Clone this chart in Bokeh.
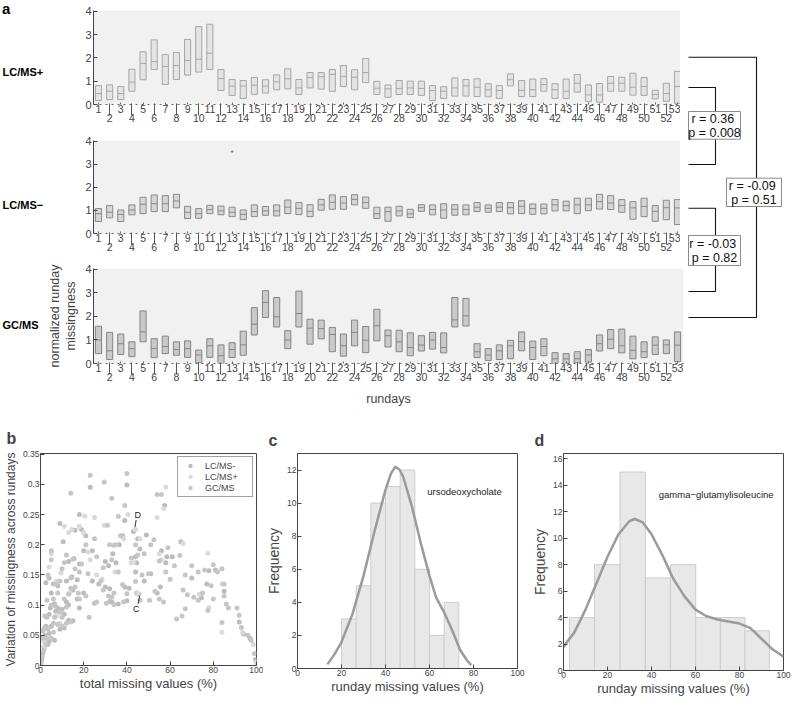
from bokeh.plotting import figure
from bokeh.models import (LinearAxis, FixedTicker, Range1d, Legend, LegendItem,
                          NumeralTickFormatter)
from bokeh.layouts import row, column
from bokeh.embed import file_html
from bokeh.resources import INLINE
from bokeh.core.properties import value

FONT = "Liberation Sans"

# ---------------- panel a data ----------------
rundays = list(range(1, 54))
pos_q3 = [0.81, 0.84, 0.77, 1.51, 2.26, 2.77, 2.14, 2.23, 2.79, 3.34, 3.44, 1.50, 1.07, 1.03, 1.16, 1.06, 1.27, 1.53,
          1.07, 1.37, 1.37, 1.50, 1.67, 1.49, 1.97, 0.99, 0.84, 1.03, 1.00, 1.00, 0.81, 0.76, 1.14, 1.07, 1.10, 0.89,
          0.81, 1.31, 1.03, 1.09, 1.11, 0.89, 1.09, 1.29, 0.84, 0.90, 1.20, 1.17, 1.34, 1.16, 0.61, 0.91, 1.42]
pos_med = [0.47, 0.57, 0.47, 0.96, 1.76, 1.84, 1.63, 1.67, 1.89, 1.94, 2.20, 1.11, 0.79, 0.79, 0.83, 0.79, 0.97, 1.10,
           0.71, 1.16, 1.19, 1.29, 1.21, 1.17, 1.37, 0.70, 0.67, 0.69, 0.71, 0.69, 0.60, 0.57, 0.71, 0.80, 0.74, 0.63,
           0.60, 1.06, 0.61, 0.63, 0.86, 0.63, 0.57, 0.91, 0.41, 0.41, 0.91, 0.91, 0.74, 0.77, 0.43, 0.47, 0.77]
pos_q1 = [0.17, 0.21, 0.21, 0.57, 1.06, 1.50, 0.86, 1.07, 1.26, 1.39, 1.50, 0.60, 0.39, 0.26, 0.44, 0.49, 0.63, 0.67,
          0.43, 0.71, 0.66, 0.57, 0.77, 0.63, 0.94, 0.43, 0.31, 0.43, 0.43, 0.39, 0.17, 0.26, 0.36, 0.36, 0.34, 0.33,
          0.26, 0.80, 0.34, 0.34, 0.57, 0.26, 0.26, 0.53, 0.13, 0.10, 0.57, 0.57, 0.40, 0.39, 0.24, 0.14, 0.05]

neg_q3 = [1.08, 1.21, 1.02, 1.24, 1.57, 1.67, 1.64, 1.70, 1.18, 1.08, 1.22, 1.19, 1.14, 1.02, 1.24, 1.17, 1.24, 1.45,
          1.34, 1.25, 1.48, 1.67, 1.60, 1.68, 1.58, 1.14, 1.14, 1.18, 1.05, 1.25, 1.24, 1.29, 1.25, 1.24, 1.34, 1.24,
          1.34, 1.34, 1.42, 1.28, 1.28, 1.47, 1.40, 1.53, 1.53, 1.70, 1.64, 1.47, 1.38, 1.53, 1.21, 1.44, 1.47]
neg_med = [0.86, 0.92, 0.83, 1.02, 1.27, 1.29, 1.29, 1.41, 0.92, 0.86, 1.04, 0.98, 0.92, 0.83, 0.95, 0.98, 0.98, 1.14,
           1.09, 0.96, 1.24, 1.35, 1.32, 1.48, 1.34, 0.86, 0.95, 0.98, 0.85, 1.12, 1.04, 1.02, 1.05, 1.04, 1.14, 1.09,
           1.14, 1.12, 1.18, 1.08, 1.09, 1.24, 1.21, 1.24, 1.24, 1.38, 1.32, 1.21, 1.11, 1.17, 0.96, 1.12, 1.11]
neg_q1 = [0.52, 0.68, 0.52, 0.81, 0.86, 0.95, 0.95, 1.11, 0.65, 0.66, 0.86, 0.81, 0.73, 0.60, 0.73, 0.79, 0.76, 0.86,
          0.82, 0.73, 1.01, 1.05, 1.05, 1.24, 1.09, 0.65, 0.53, 0.76, 0.69, 0.96, 0.81, 0.66, 0.79, 0.81, 0.95, 0.92,
          0.95, 0.85, 0.86, 0.83, 0.85, 0.98, 0.98, 0.86, 0.99, 1.06, 1.04, 0.92, 0.62, 0.73, 0.53, 0.60, 0.39]
neg_outlier_day = [13]
neg_outlier_val = [3.55]

gc_q3 = [1.58, 1.32, 1.25, 0.92, 2.23, 1.05, 1.16, 0.92, 0.96, 0.57, 1.05, 0.79, 0.88, 1.37, 2.37, 3.09, 2.80, 1.39,
         3.07, 1.88, 1.84, 1.53, 1.25, 1.84, 1.57, 2.30, 1.42, 1.41, 1.30, 1.18, 1.32, 1.30, 2.80, 2.76, 0.84, 0.63,
         0.79, 0.98, 1.34, 0.95, 1.05, 0.46, 0.42, 0.50, 0.59, 1.21, 1.44, 1.46, 1.16, 0.92, 1.13, 1.00, 1.34]
gc_med = [1.00, 0.54, 0.84, 0.63, 1.34, 0.64, 0.72, 0.59, 0.63, 0.36, 0.75, 0.33, 0.59, 0.79, 1.67, 2.59, 1.98, 1.00,
          2.12, 1.50, 1.48, 1.23, 0.75, 1.32, 0.99, 1.60, 1.18, 0.92, 0.68, 0.78, 1.00, 0.68, 1.85, 2.02, 0.50, 0.36,
          0.54, 0.75, 0.93, 0.68, 0.72, 0.20, 0.20, 0.20, 0.36, 0.84, 1.03, 0.75, 0.56, 0.50, 0.78, 0.79, 0.78]
gc_q1 = [0.42, 0.17, 0.38, 0.29, 0.92, 0.25, 0.42, 0.35, 0.26, 0.03, 0.26, 0.00, 0.25, 0.35, 1.21, 1.95, 1.55, 0.63,
         1.55, 0.82, 1.05, 0.50, 0.31, 0.75, 0.46, 0.96, 0.70, 0.50, 0.33, 0.53, 0.61, 0.45, 1.55, 1.59, 0.25, 0.13,
         0.17, 0.20, 0.54, 0.17, 0.33, 0.00, 0.00, 0.03, 0.06, 0.53, 0.63, 0.45, 0.20, 0.25, 0.38, 0.42, 0.08]

y_ticks_a = [0, 1, 2, 3, 4]
odd_days = [d for d in rundays if d % 2 == 1]
even_days = [d for d in rundays if d % 2 == 0]

corr_texts = [["r  = 0.36", "p = 0.008"], ["r  = -0.03", "p = 0.82"], ["r  = -0.09", "p = 0.51"]]

# ---------------- panel b data ----------------
neg_x = [23, 40, 18, 9, 16, 19, 21, 39, 43, 38, 45, 49, 57.5, 56, 58, 65, 70, 78, 77, 81, 74.5, 85, 92, 94, 97, 99.5,
         44, 44.5, 46, 51, 54, 44.5, 45.5, 44, 40, 39, 35, 33.5, 31.5, 30, 27, 30, 32, 33, 32, 25, 24, 24, 20, 18, 17,
         15.5, 14.5, 13, 12, 10.5, 8, 6, 4, 2.5, 5, 6.5, 8, 10, 12, 15, 17, 18, 20, 13, 11, 9, 11, 13, 15, 7, 5, 4,
         2.5, 2, 4, 6.5, 3.5, 1, 0.5, 0.2, 4, 4.5, 36.5, 36, 41, 48, 58.5, 61, 55.5]
neg_y = [0.295, 0.299, 0.25, 0.235, 0.224, 0.225, 0.215, 0.24, 0.222, 0.215, 0.21, 0.216, 0.265, 0.19, 0.17, 0.205,
         0.145, 0.157, 0.135, 0.158, 0.112, 0.123, 0.072, 0.052, 0.045, 0.01, 0.18, 0.17, 0.193, 0.152, 0.12, 0.12,
         0.118, 0.155, 0.107, 0.13, 0.17, 0.185, 0.165, 0.172, 0.135, 0.13, 0.127, 0.105, 0.106, 0.103, 0.14, 0.19,
         0.19, 0.168, 0.142, 0.177, 0.147, 0.172, 0.14, 0.205, 0.132, 0.135, 0.145, 0.137, 0.12, 0.102, 0.095, 0.093,
         0.105, 0.125, 0.11, 0.095, 0.12, 0.1, 0.085, 0.06, 0.062, 0.075, 0.074, 0.09, 0.065, 0.053, 0.065, 0.05,
         0.04, 0.042, 0.035, 0.02, 0.01, 0.002, 0.085, 0.095, 0.2, 0.102, 0.128, 0.14, 0.18, 0.18, 0.13]
pos_x = [20.5, 25, 11, 18, 20, 13, 14.5, 40.5, 44, 38.5, 46, 54, 58, 57, 55, 66, 77.5, 73.5, 78, 84, 84, 93.5, 98.5,
         99.7, 42, 43, 45, 28.5, 29.5, 26, 23, 22, 9.5, 7.5, 5, 4, 13.5, 9, 7.5, 1.5, 2, 1.5, 0.5, 34.5, 56]
pos_y = [0.247, 0.245, 0.23, 0.23, 0.22, 0.22, 0.225, 0.25, 0.225, 0.21, 0.21, 0.245, 0.295, 0.26, 0.185, 0.202,
         0.186, 0.118, 0.096, 0.135, 0.055, 0.055, 0.035, 0.005, 0.17, 0.17, 0.12, 0.143, 0.232, 0.15, 0.175, 0.188,
         0.153, 0.14, 0.185, 0.163, 0.12, 0.07, 0.082, 0.06, 0.03, 0.04, 0.03, 0.155, 0.175]
gc_x = [23, 29.5, 40, 33, 14, 36, 39, 54, 56, 78, 52.5, 51, 60, 64.5, 67, 70, 73, 76, 79, 80, 82, 84, 80, 75, 73, 71,
        68, 66, 67, 63, 65.5, 77.5, 85, 85, 86, 87, 84, 91, 92, 93, 96, 97.5, 99, 44, 45, 42, 48, 50, 53, 55, 50.5,
        57, 46, 44, 40, 38, 36, 34, 32, 33, 29, 28, 29, 31.5, 33, 34, 30.5, 26, 22.5, 26, 25, 31, 22, 21, 19, 18, 16,
        15, 14, 12, 11, 10, 9, 8, 7, 5, 5, 3.5, 3, 6, 7, 9, 11, 13, 14, 16, 17.5, 18, 21, 12, 10, 8, 10, 12, 14, 6.5,
        6, 6, 3.5, 2, 1, 3, 5, 2.5, 1.5, 0.8, 0.3, 1, 3, 2, 5, 35, 37, 34, 38.5, 47, 55, 59, 62, 58]
gc_y = [0.315, 0.304, 0.318, 0.277, 0.285, 0.247, 0.265, 0.283, 0.283, 0.285, 0.208, 0.2, 0.143, 0.182, 0.15, 0.165,
        0.155, 0.158, 0.132, 0.167, 0.155, 0.16, 0.11, 0.12, 0.108, 0.113, 0.117, 0.125, 0.094, 0.077, 0.082, 0.091,
        0.135, 0.115, 0.102, 0.095, 0.071, 0.095, 0.083, 0.063, 0.05, 0.042, 0.02, 0.2, 0.183, 0.178, 0.185, 0.152,
        0.123, 0.11, 0.108, 0.105, 0.108, 0.139, 0.119, 0.134, 0.155, 0.199, 0.2, 0.175, 0.162, 0.14, 0.125, 0.115,
        0.113, 0.101, 0.103, 0.105, 0.08, 0.18, 0.21, 0.232, 0.152, 0.2, 0.168, 0.155, 0.16, 0.176, 0.145, 0.183,
        0.17, 0.16, 0.14, 0.12, 0.135, 0.19, 0.175, 0.15, 0.108, 0.11, 0.098, 0.088, 0.11, 0.118, 0.128, 0.13, 0.12,
        0.11, 0.115, 0.097, 0.08, 0.068, 0.065, 0.07, 0.072, 0.08, 0.07, 0.055, 0.06, 0.062, 0.057, 0.045, 0.045,
        0.035, 0.025, 0.015, 0.005, 0.045, 0.08, 0.082, 0.1, 0.2, 0.215, 0.12, 0.105, 0.15, 0.173, 0.195, 0.165, 0.155]
b_y_ticks = [0, 0.05, 0.1, 0.15, 0.2, 0.25, 0.3, 0.35]
pct_ticks = [0, 20, 40, 60, 80, 100]

# ---------------- panel c / d data ----------------
c_edges_left = [20.0, 26.67, 33.33, 40.0, 46.67, 53.33, 60.0, 66.67]
c_edges_right = [26.67, 33.33, 40.0, 46.67, 53.33, 60.0, 66.67, 73.33]
c_counts = [3, 5, 10, 11, 12, 6, 2, 4]
c_curve_x = [13.6, 17, 20, 25, 30, 35, 40, 42.5, 44.5, 46.5, 48, 52, 56, 60, 63, 67, 70, 74, 77, 79]
c_curve_y = [0.25, 0.9, 1.6, 3.3, 5.6, 8.3, 10.8, 11.8, 12.2, 12.0, 11.6, 9.8, 7.6, 5.6, 4.3, 3.3, 2.4, 1.1, 0.5, 0.2]
c_y_ticks = [0, 2, 4, 6, 8, 10, 12]

d_edges_left = [2.7, 14.1, 25.7, 37.2, 48.6, 60.1, 71.3, 82.5]
d_edges_right = [14.1, 25.7, 37.2, 48.6, 60.1, 71.3, 82.5, 93.6]
d_counts = [4, 8, 15, 7, 8, 4, 4, 3]
d_curve_x = [0, 5, 10, 15, 20, 25, 30, 32.5, 36, 40, 45, 50, 55, 60, 65, 70, 75, 80, 85, 90, 95, 100]
d_curve_y = [1.8, 2.9, 4.6, 6.6, 8.6, 10.3, 11.3, 11.45, 11.2, 10.3, 8.7, 6.9, 5.6, 4.6, 4.1, 3.85, 3.7, 3.55, 3.2,
             2.4, 1.6, 1.05]
d_y_ticks = [0, 2, 4, 6, 8, 10, 12, 14, 16]

AX = "#444444"


def base_fig(**kw):
    p = figure(output_backend="svg", toolbar_location=None, **kw)
    return p


def box_panel(q1, med, q3, fill, line, top_b, bot_b, fh, ylabel=None, xlabel=None):
    p = base_fig(frame_width=590, frame_height=fh, x_range=Range1d(0.55, 53.54), y_range=Range1d(0, 4.03),
                 x_axis_type=None, y_axis_type=None, min_border_left=44, min_border_right=2,
                 min_border_top=top_b, min_border_bottom=bot_b)
    p.background_fill_color = "#f1f1f1"
    p.outline_line_color = None
    p.vbar(x=rundays, width=0.55, bottom=q1, top=q3, fill_color=fill, line_color=line, line_width=1)
    p.segment(x0=[d - 0.275 for d in rundays], x1=[d + 0.275 for d in rundays], y0=med, y1=med,
              line_color=line, line_width=1)
    ay = LinearAxis(ticker=FixedTicker(ticks=y_ticks_a), major_tick_in=4, major_tick_out=0,
                    axis_line_color=AX, major_tick_line_color=AX, minor_tick_line_color=None,
                    major_label_text_font=FONT, major_label_text_font_size="11px", major_label_standoff=2)
    if ylabel:
        ay.axis_label = ylabel
        ay.axis_label_text_font = FONT
        ay.axis_label_text_font_size = "12.5px"
        ay.axis_label_text_font_style = "normal"
        ay.axis_label_standoff = 4
    p.add_layout(ay, "left")
    axA = LinearAxis(ticker=FixedTicker(ticks=odd_days), major_tick_in=2, major_tick_out=0,
                     axis_line_color="#666666", axis_line_dash="dotted", major_tick_line_color="#666666",
                     minor_tick_line_color=None, major_label_standoff=0,
                     major_label_text_font=FONT, major_label_text_font_size="10.5px")
    axB = LinearAxis(ticker=FixedTicker(ticks=even_days), major_tick_in=12, major_tick_out=0,
                     axis_line_color=None, major_tick_line_color="#555555",
                     minor_tick_line_color=None, major_label_standoff=-2,
                     major_label_text_font=FONT, major_label_text_font_size="10.5px")
    if xlabel:
        axB.axis_label = xlabel
        axB.axis_label_text_font = FONT
        axB.axis_label_text_font_size = "12.5px"
        axB.axis_label_text_font_style = "normal"
        axB.axis_label_standoff = 8
    p.add_layout(axA, "below")
    p.add_layout(axB, "below")
    return p


p1 = box_panel(pos_q1, pos_med, pos_q3, "#e4e4e4", "#a6a6a6", 10, 26, 94)
p2 = box_panel(neg_q1, neg_med, neg_q3, "#d6d6d6", "#8a8a8a", 10, 26, 93)
p2.scatter(x=neg_outlier_day, y=neg_outlier_val, size=1.5, color="#777777")
p3 = box_panel(gc_q1, gc_med, gc_q3, "#cacaca", "#858585", 9, 46, 95,
               ylabel="normalized runday\nmissingness", xlabel="rundays")

HA = 409
# row labels column
plbl = base_fig(frame_width=44, frame_height=HA, x_range=Range1d(0, 44), y_range=Range1d(HA, 0),
                x_axis_type=None, y_axis_type=None, min_border=0)
plbl.outline_line_color = None
plbl.text(x=[1.5], y=[8], text=["a"], text_font=value(FONT), text_font_size="15px", text_font_style="bold",
          text_baseline="middle", text_align="left")
plbl.text(x=[2, 2, 2], y=[71, 204.7, 324], text=["LC/MS+", "LC/MS\u2212", "GC/MS"], text_font=value(FONT),
          text_font_size="11px", text_font_style="bold", text_baseline="middle", text_align="left")

# correlation brackets column
pbr = base_fig(frame_width=97, frame_height=HA, x_range=Range1d(0, 97), y_range=Range1d(HA, 0),
               x_axis_type=None, y_axis_type=None, min_border=0)
pbr.outline_line_color = None
pbr.multi_line(xs=[[3, 30, 30], [30, 30, 3], [3, 30, 30], [30, 30, 3], [3, 71, 71, 3]],
               ys=[[87, 87, 111], [138.7, 164, 164], [207.7, 207.7, 235], [265, 291, 291], [56.7, 56.7, 317, 317]],
               line_color="#111111", line_width=1.1)
pbr.quad(left=[3, 3, 41], right=[55, 55, 96], top=[111, 235, 177.7], bottom=[138.7, 265, 206],
         fill_color="white", line_color="#8a8a8a", line_width=1)
pbr.text(x=[29, 29, 29, 29, 68.5, 68.5], y=[118, 132, 243, 257, 185, 199],
         text=[corr_texts[0][0], corr_texts[0][1], corr_texts[1][0], corr_texts[1][1],
               corr_texts[2][0], corr_texts[2][1]],
         text_font=value(FONT), text_font_size="12.5px", text_align="center", text_baseline="middle",
         text_color="#111111")

panel_a = row(plbl, column(p1, p2, p3), pbr)


def style_small(p, yticks, ylabel, xlabel, ylab_size):
    p.xaxis.ticker = FixedTicker(ticks=pct_ticks)
    p.yaxis.ticker = FixedTicker(ticks=yticks)
    p.axis.major_tick_in = 4
    p.axis.major_tick_out = 0
    p.axis.minor_tick_line_color = None
    p.axis.axis_line_color = AX
    p.axis.major_tick_line_color = AX
    p.axis.major_label_text_font = FONT
    p.axis.major_label_text_font_size = "8.5px"
    p.axis.major_label_standoff = 1
    p.axis.axis_label_text_font = FONT
    p.axis.axis_label_text_font_style = "normal"
    p.xaxis.axis_label = xlabel
    p.xaxis.axis_label_text_font_size = "13px"
    p.xaxis.axis_label_standoff = 0
    p.yaxis.axis_label = ylabel
    p.yaxis.axis_label_text_font_size = ylab_size
    p.yaxis.axis_label_standoff = 2
    p.grid.visible = False
    p.outline_line_color = AX
    p.title.text_font = FONT
    p.title.text_font_size = "16px"
    p.title.text_font_style = "bold"
    p.title.align = "left"
    p.title.standoff = 10


# panel b
pb = base_fig(frame_width=216, frame_height=212, x_range=Range1d(0, 100), y_range=Range1d(0, 0.351),
              min_border_left=34, min_border_right=7, min_border_top=44, min_border_bottom=32, title="b")
style_small(pb, b_y_ticks, "Variation of missingness across rundays", "total missing values (%)", "12px")
pb.yaxis.formatter = NumeralTickFormatter(format="0.[00]")
pb.title.offset = -34
pb.title.standoff = 14
r_neg = pb.scatter(neg_x, neg_y, size=5, fill_color="#bcbcbc", line_color=None)
r_pos = pb.scatter(pos_x, pos_y, size=5, fill_color="#dadada", line_color=None)
r_gc = pb.scatter(gc_x, gc_y, size=5, fill_color="#c6c6c6", line_color=None)
pb.text(x=[45.0, 44.3], y=[0.249, 0.093], text=["D", "C"], text_font=value(FONT), text_font_size="9px",
        text_align="center", text_baseline="middle", text_color="#222222")
pb.segment(x0=[44.3, 45.9], y0=[0.241, 0.115], x1=[43.7, 45.2], y1=[0.229, 0.102], line_color="#333333",
           line_width=1)
leg = Legend(items=[LegendItem(label="LC/MS-", renderers=[r_neg]),
                    LegendItem(label="LC/MS+", renderers=[r_pos]),
                    LegendItem(label="GC/MS", renderers=[r_gc])],
             location="top_right", margin=3, padding=3, spacing=0, label_text_font=FONT,
             label_text_font_size="9px", glyph_height=11, glyph_width=18, label_height=11, label_width=44,
             label_standoff=6, border_line_color="#444444", background_fill_alpha=1)
pb.add_layout(leg)

# panel c
pc = base_fig(frame_width=220, frame_height=215, x_range=Range1d(0, 100), y_range=Range1d(0, 13.0),
              min_border_left=30, min_border_right=12, min_border_top=41, min_border_bottom=32, title="c")
style_small(pc, c_y_ticks, "Frequency", "runday missing values (%)", "14px")
pc.title.offset = -29
pc.quad(left=c_edges_left, right=c_edges_right, bottom=0, top=c_counts, fill_color="#e8e8e8",
        line_color="#cdcdcd", line_width=1)
pc.line(c_curve_x, c_curve_y, line_color="#9b9b9b", line_width=2.5)
pc.text(x=[59], y=[10.7], text=["ursodeoxycholate"], text_font=value(FONT), text_font_size="9.5px",
        text_baseline="middle", text_color="#222222")

# panel d
pd_ = base_fig(frame_width=220, frame_height=217, x_range=Range1d(0, 100), y_range=Range1d(0, 16.4),
               min_border_left=30, min_border_right=8, min_border_top=39, min_border_bottom=32, title="d")
style_small(pd_, d_y_ticks, "Frequency", "runday missing values (%)", "14px")
pd_.title.offset = -29
pd_.quad(left=d_edges_left, right=d_edges_right, bottom=0, top=d_counts, fill_color="#e8e8e8",
         line_color="#cdcdcd", line_width=1)
pd_.line(d_curve_x, d_curve_y, line_color="#9b9b9b", line_width=2.5)
pd_.text(x=[43.3], y=[13.3], text=["gamma\u2212glutamylisoleucine"], text_font=value(FONT),
         text_font_size="9.5px", text_baseline="middle", text_color="#222222")

layout = column(panel_a, row(pb, pc, pd_))
open("out.html", "w").write(file_html(layout, INLINE))
